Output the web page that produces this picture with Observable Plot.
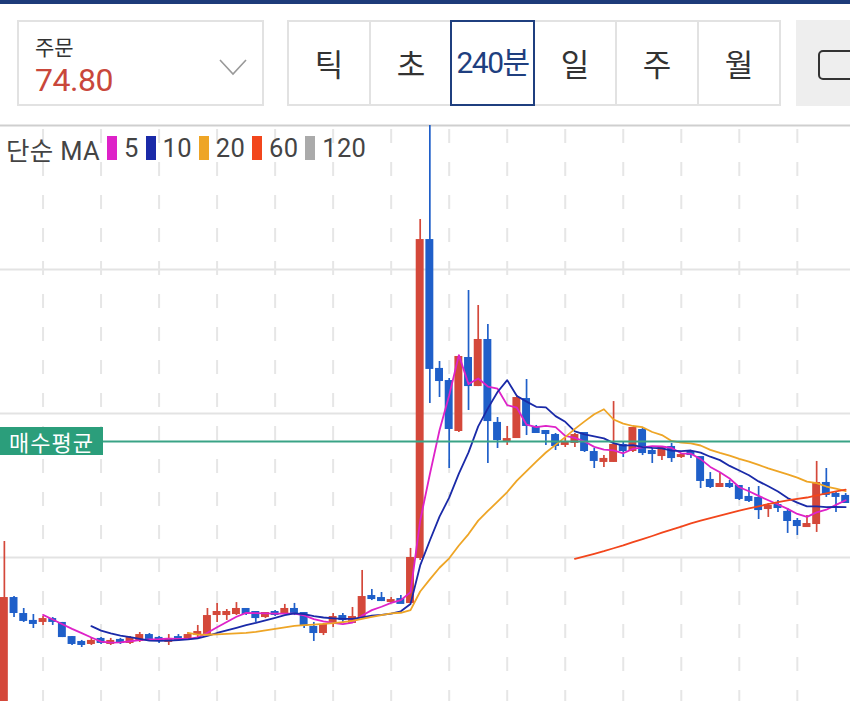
<!DOCTYPE html>
<html><head><meta charset="utf-8">
<script src="https://cdn.jsdelivr.net/npm/d3@7"></script>
<script src="https://cdn.jsdelivr.net/npm/@observablehq/plot@0.6"></script>
<style>
body{margin:0;background:#fff;font-family:Roboto,"Noto Sans CJK KR","Noto Sans",sans-serif;}
#wrap{position:relative;width:850px;height:701px;overflow:hidden;background:#fff}
.topbar{position:absolute;left:0;top:0;width:850px;height:4px;background:#1d3b7a}
.order{position:absolute;left:17px;top:20px;width:247px;height:86px;box-sizing:border-box;border:2px solid #e2e2e2}
.order .lbl{position:absolute;left:16px;top:11px;font-size:21px;line-height:26px;color:#333;font-family:"Noto Sans CJK KR",sans-serif}
.order .price{position:absolute;left:16px;top:41px;font-size:32px;line-height:34px;color:#c9473b;letter-spacing:-0.5px}
.order svg{position:absolute;left:199px;top:35px}
.tabs{position:absolute;left:287px;top:20px;width:494px;height:86px;box-sizing:border-box;border:2px solid #e2e2e2;display:flex}
.tab{flex:1;text-align:center;line-height:82px;font-size:31px;color:#333;border-right:2px solid #e2e2e2;font-family:"Noto Sans CJK KR",sans-serif}
.tab:last-child{border-right:none}
.sel{position:absolute;left:450px;top:20px;width:85px;height:86px;box-sizing:border-box;border:2px solid #1f3f7f;text-align:center;line-height:82px;font-size:30px;color:#1f3f7f;letter-spacing:-1.5px;background:#fff}
.side{position:absolute;left:796px;top:20px;width:60px;height:86px;background:#eeeeee}
.side .icon{position:absolute;left:22px;top:30px;width:40px;height:30px;border:2.5px solid #333;border-radius:5px;box-sizing:border-box}
#chart{position:absolute;left:0;top:124px}
.legend{position:absolute;left:6px;top:132px;height:32px;display:flex;align-items:center;font-size:25.5px;color:#444;letter-spacing:0.3px}
.legend .sw{display:inline-block;width:10px;height:24px;margin:0 7px 0 7px}
.avg{position:absolute;left:0;width:103px;height:28px;background:#2b9e7b;color:#fff;font-size:22px;line-height:28px;text-align:center;letter-spacing:1px;font-family:"Noto Sans CJK KR",sans-serif}
</style></head><body>
<div id="wrap">
  <div class="topbar"></div>
  <div class="order">
    <div class="lbl"></div>
    <div class="price"></div>
    <svg width="30" height="20"><polyline points="2,3 15,17 28,3" fill="none" stroke="#999" stroke-width="1.6"/></svg>
  </div>
  <div class="tabs" id="tabs"></div>
  <div class="sel" id="sel"></div>
  <div class="side"><div class="icon"></div></div>
  <div id="chart"></div>
  <div class="legend" id="legend"></div>
  <div class="avg" id="avg"></div>
</div>
<script>
// ---- UI texts ----
const orderLabel = "주문";
const orderPrice = "74.80";
const tabLabels = ["틱", "초", "240분", "일", "주", "월"];
const selectedTab = 2;
const legendTitle = "단순 MA";
const maPeriods = [5, 10, 20, 60, 120];
const maColors = ["#de22c8", "#1a2aa8", "#eea526", "#f2461c", "#aaaaaa"];
const avgLabel = "매수평균";
const avgPrice = 68.06;

// ---- candle data (240-minute bars) ----
const open = [
49.5, 57.15, 56.04, 55.56, 55.56, 55.69, 55.42, 54.44, 54.10, 54.03,
54.31, 54.03, 54.24, 54.10, 54.24, 54.58, 54.38, 54.17, 54.44, 54.44,
54.65, 54.72, 56.04, 56.04, 56.11, 56.39, 56.18, 55.90, 56.18, 56.11,
56.39, 56.11, 55.14, 54.79, 55.42, 55.90, 55.49, 55.83, 57.29, 57.15,
56.94, 57.08, 56.87, 60.00, 82.01, 73.06, 72.22, 68.82, 73.82, 71.94,
75.07, 69.31, 68.06, 68.33, 70.97, 69.03, 68.75, 68.47, 67.85, 67.99,
68.61, 67.29, 66.67, 66.67, 67.78, 67.43, 68.82, 67.36, 67.08, 67.64,
67.01, 67.29, 66.94, 65.35, 64.93, 65.07, 64.93, 64.17, 64.10, 63.40,
63.61, 63.13, 62.50, 62.15, 62.36, 65.14, 64.38, 64.24];
const high = [
61.11, 57.29, 56.46, 56.04, 55.90, 55.83, 55.49, 54.51, 54.24, 54.44,
54.44, 54.38, 54.38, 54.51, 54.79, 54.72, 54.51, 54.65, 54.65, 54.79,
55.28, 56.46, 56.81, 56.39, 56.87, 56.46, 56.25, 56.11, 56.32, 56.74,
56.81, 56.18, 55.49, 55.42, 56.11, 56.11, 56.53, 59.10, 57.78, 57.57,
57.22, 57.36, 60.63, 83.47, 90.50, 73.61, 72.43, 74.03, 78.54, 77.50,
76.18, 69.72, 69.10, 71.25, 72.36, 69.17, 68.82, 68.61, 68.26, 68.61,
68.68, 67.57, 67.08, 70.83, 67.99, 69.03, 68.96, 67.57, 67.64, 67.92,
67.22, 67.43, 66.94, 65.90, 65.83, 65.35, 65.00, 64.86, 64.93, 63.75,
63.96, 63.40, 62.71, 62.92, 66.67, 66.18, 64.51, 64.44];
const low = [
49.0, 55.83, 55.49, 55.07, 55.28, 55.28, 54.44, 53.89, 53.75, 53.89,
53.96, 53.89, 53.96, 53.96, 54.10, 54.17, 54.03, 53.89, 54.17, 54.24,
54.38, 54.65, 55.49, 55.63, 55.97, 55.97, 55.49, 55.76, 55.90, 56.04,
55.97, 55.07, 54.17, 54.58, 55.14, 55.42, 55.42, 55.76, 57.01, 56.94,
56.81, 56.81, 56.81, 59.79, 70.69, 71.11, 66.18, 68.68, 70.21, 71.87,
66.53, 67.57, 67.78, 68.26, 68.47, 68.61, 67.78, 67.43, 67.64, 67.64,
67.29, 66.18, 66.25, 66.60, 66.94, 67.29, 67.08, 66.53, 66.74, 66.60,
66.87, 66.87, 64.79, 64.79, 64.86, 64.79, 63.96, 63.82, 62.64, 62.78,
63.13, 61.67, 61.53, 62.08, 61.74, 64.17, 63.13, 63.75];
const close = [
57.15, 56.18, 55.63, 55.42, 55.69, 55.56, 54.51, 54.03, 53.96, 54.17,
54.10, 54.17, 54.10, 54.38, 54.58, 54.31, 54.24, 54.31, 54.31, 54.58,
54.79, 55.90, 56.18, 56.18, 56.39, 56.11, 55.83, 56.11, 56.04, 56.39,
56.11, 55.28, 54.79, 55.28, 55.83, 55.69, 55.83, 57.22, 57.15, 57.01,
57.01, 56.81, 59.93, 82.01, 73.13, 72.29, 68.96, 73.89, 71.94, 75.07,
69.51, 68.19, 68.19, 71.04, 69.17, 68.68, 68.61, 67.78, 67.99, 68.47,
67.43, 66.74, 66.81, 67.78, 67.43, 68.96, 67.29, 67.22, 67.64, 66.94,
67.08, 67.15, 65.35, 64.93, 65.07, 64.93, 64.10, 63.96, 63.33, 63.54,
63.47, 62.57, 62.22, 62.29, 65.14, 64.38, 64.24, 63.82];
const gridPrices = [60, 70, 80];
const topPrice = 90;

// ---- header ----
document.querySelector(".order .lbl").textContent = orderLabel;
document.querySelector(".order .price").textContent = orderPrice;
const tabs = document.getElementById("tabs");
tabLabels.forEach((t, i) => {
  const d = document.createElement("div");
  d.className = "tab";
  d.textContent = i === selectedTab ? "" : t;
  tabs.appendChild(d);
});
document.getElementById("sel").textContent = tabLabels[selectedTab];

// ---- legend ----
const lg = document.getElementById("legend");
const tt = document.createElement("span"); tt.textContent = legendTitle; lg.appendChild(tt);
maPeriods.forEach((p, j) => {
  const s = document.createElement("span"); s.className = "sw"; s.style.background = maColors[j]; lg.appendChild(s);
  const t = document.createElement("span"); t.textContent = p; lg.appendChild(t);
});

// ---- chart ----
const RED = "#d4483a", BLUE = "#1f5fc9";
const n = close.length;
const idx = d3.range(n);
const rows = idx.map(i => ({i, o: open[i], h: high[i], l: low[i], c: close[i], up: close[i] >= open[i]}));
const ups = rows.filter(d => d.up), downs = rows.filter(d => !d.up);
const maLines = maPeriods.map((k, j) => ({
  k, color: maColors[j],
  pts: idx.filter(i => i >= k - 1).map(i => ({i, v: d3.mean(close.slice(i - k + 1, i + 1))}))
})).filter(m => m.pts.length > 0);
const gridX = d3.range(4, n, 6);

const bodyOpts = {
  x1: d => d.i - 0.41, x2: d => d.i + 0.41,
  y1: d => Math.min(d.o, d.c), y2: d => Math.max(d.o, d.c),
  insetTop: -1, insetBottom: -1, clip: true
};
const chart = Plot.plot({
  width: 850, height: 577,
  marginTop: 1, marginBottom: 0, marginLeft: 0, marginRight: 0,
  x: {type: "linear", domain: [-0.4, 87.5], axis: null},
  y: {domain: [50, topPrice], axis: null},
  marks: [
    Plot.ruleY(gridPrices, {stroke: "#e3e3e3", strokeWidth: 2}),
    Plot.ruleX(gridX, {stroke: "#e6e6e6", strokeWidth: 2, strokeDasharray: "14,19", strokeDashoffset: 29}),
    Plot.ruleY([topPrice], {stroke: "#cfcfcf", strokeWidth: 2}),
    Plot.ruleX(ups, {x: "i", y1: "l", y2: "h", stroke: RED, strokeWidth: 1.7, clip: true}),
    Plot.ruleX(downs, {x: "i", y1: "l", y2: "h", stroke: BLUE, strokeWidth: 1.7, clip: true}),
    Plot.rect(ups, {...bodyOpts, fill: RED}),
    Plot.rect(downs, {...bodyOpts, fill: BLUE}),
    ...maLines.map(m => Plot.line(m.pts, {x: "i", y: "v", stroke: m.color, strokeWidth: 1.8, clip: true})),
    Plot.ruleY([avgPrice], {stroke: "#3aa386", strokeWidth: 2})
  ]
});
document.getElementById("chart").appendChild(chart);
const avgEl = document.getElementById("avg");
avgEl.textContent = avgLabel;
avgEl.style.top = (124 + chart.scale("y").apply(avgPrice) - 14) + "px";
</script>
</body></html>
